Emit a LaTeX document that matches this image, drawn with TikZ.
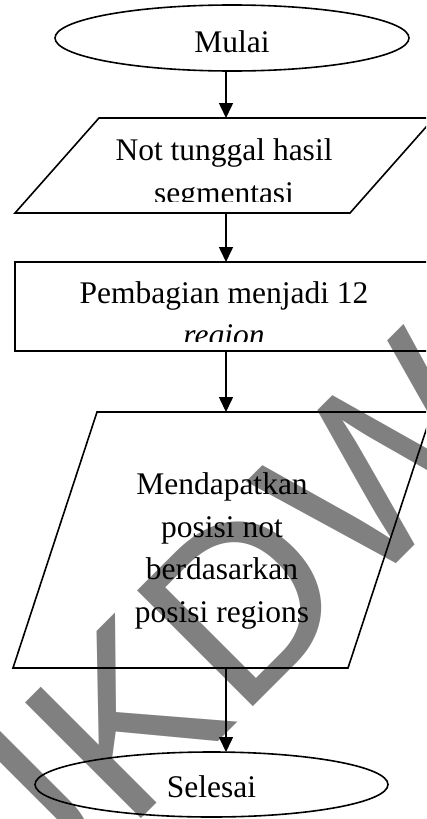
\documentclass[tikz,border=0pt]{standalone}
\usepackage{fontspec}
\setmainfont{Liberation Serif}
\newfontfamily\markfont{Liberation Sans}
\usetikzlibrary{shapes.geometric,arrows.meta}

\begin{document}
\begin{tikzpicture}[x=1pt,y=-1pt,
  every node/.style={inner sep=0pt, outer sep=0pt},
  frame/.style={draw=black, line width=1.6pt},
  boxtext/.style={font=\fontsize{31.5}{42.5}\selectfont, align=center, anchor=base},
  terminal/.style={ellipse, frame, font=\fontsize{31.5}{38}\selectfont, text depth=0pt},
  flow/.style={line width=1.6pt, -{Triangle[length=15pt,width=14pt]}},
  slantbox/.style={minimum width=419pt},
]
\path[use as bounding box] (0,0) rectangle (426,819);
\clip (0,0) rectangle (426,819);

% faint gray stamp behind the chart
\node[font=\markfont\fontsize{238}{238}\selectfont, text=black!50,
      rotate=45, anchor=base west] (stamp) at (6,954) {UKDW};

% start terminal
\node[terminal, minimum width=354pt, minimum height=66pt, text height=28pt]
  (start) at (232,38) {Mulai};

% input: single note from segmentation (base anchor = last line)
\node[slantbox, minimum height=95pt] (input) at (224.5,165.5) {};
\draw[frame] ([xshift=84pt]input.north west) -- (input.north east)
  -- ([xshift=-84pt]input.south east) -- (input.south west) -- cycle;
\begin{scope}
  \clip (0,118) rectangle (426,201.5);
  \node[boxtext] (inputtext) at (224,203) {Not tunggal hasil\\segmentasi};
\end{scope}

% process: split into regions
\node[frame, minimum width=421pt, minimum height=89pt] (split) at (225.5,306.5) {};
\begin{scope}
  \clip (0,262) rectangle (426,341);
  \node[boxtext] (splittext) at (224,345.5) {Pembagian menjadi 12\\\textit{region}};
\end{scope}

% output: note position from region position
\node[slantbox, minimum height=256pt] (locate) at (222.5,540) {};
\draw[frame] ([xshift=84pt]locate.north west) -- (locate.north east)
  -- ([xshift=-84pt]locate.south east) -- (locate.south west) -- cycle;
\node[boxtext] (locatetext) at (222,622)
  {Mendapatkan\\posisi not\\berdasarkan\\posisi regions};

% end terminal
\node[terminal, minimum width=353pt, minimum height=65pt, text height=26pt]
  (stop) at (211.5,784.5) {Selesai};

% connectors along one vertical axis
\coordinate (spine) at (226,0);
\draw[flow] (start.south -| spine) -- (input.north -| spine);
\draw[flow] (input.south -| spine) -- (split.north -| spine);
\draw[flow] (split.south -| spine) -- (locate.north -| spine);
\draw[flow] (locate.south -| spine) -- (stop.north -| spine);
\end{tikzpicture}
\end{document}
